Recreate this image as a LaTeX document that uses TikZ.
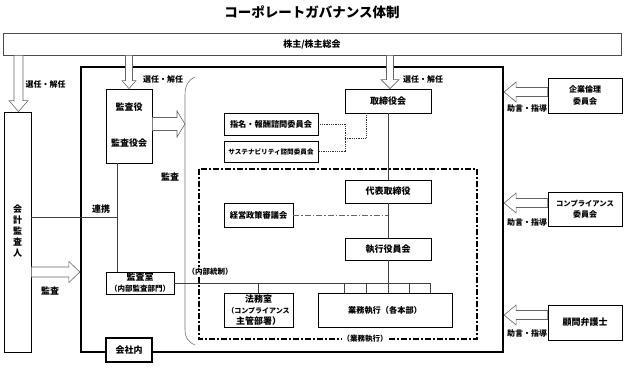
\documentclass[tikz,border=0pt]{standalone}
\usepackage{fontspec}
\setmainfont{Noto Sans CJK JP}
\usetikzlibrary{calc}
\newcommand\arrowH[5]{%
 \draw[barrow] let \p1=(#1), \p2=(#2), \n1={sign(\x2-\x1)} in
  (\x1,{\y1+#3pt}) -- ({\x2-\n1*#5pt},{\y1+#3pt}) -- ({\x2-\n1*#5pt},{\y1+#4pt}) -- (\x2,\y1)
  -- ({\x2-\n1*#5pt},{\y1-#4pt}) -- ({\x2-\n1*#5pt},{\y1-#3pt}) -- (\x1,{\y1-#3pt}) -- cycle;}
\newcommand\arrowV[5]{%
 \draw[barrow] let \p1=(#1), \p2=(#2), \n1={sign(\y2-\y1)} in
  ({\x1-#3pt},\y1) -- ({\x1-#3pt},{\y2-\n1*#5pt}) -- ({\x1-#4pt},{\y2-\n1*#5pt}) -- (\x1,\y2)
  -- ({\x1+#4pt},{\y2-\n1*#5pt}) -- ({\x1+#3pt},{\y2-\n1*#5pt}) -- ({\x1+#3pt},\y1) -- cycle;}
\tikzset{
 box/.style={draw=black, line width=0.8pt, fill=white, inner sep=0pt, align=center,
   font=\bfseries\fontsize{9}{11}\selectfont},
 lbl/.style={inner sep=0pt, font=\bfseries\fontsize{8}{9.6}\selectfont},
 barrow/.style={draw=black!60, line width=0.6pt, fill=white},
 conn/.style={draw=black!75, line width=0.7pt},
 dotc/.style={draw=black!80, line width=0.9pt, dash pattern=on 0.9pt off 0.9pt},
 ddbig/.style={draw=black, line width=1.7pt, dash pattern=on 6pt off 2pt on 2pt off 2pt},
 ddthin/.style={draw=black!60, line width=0.5pt, dash pattern=on 6pt off 2pt on 1.5pt off 2pt}
}
\begin{document}
\begin{tikzpicture}[x=1pt,y=-1pt]
\useasboundingbox (0,0) rectangle (624,367);
% title
\node[inner sep=0pt, font=\bfseries\fontsize{13.5}{15}\selectfont] (title) at (312,12) {コーポレートガバナンス体制};
% top box
\node[box, draw=black!70, minimum width=618pt, minimum height=22pt] (kab) at (312,44) {株主/株主総会};
% main frame
\node[draw=black, line width=2.2pt, minimum width=422pt, minimum height=285pt, inner sep=0pt] (main) at (292,209.5) {};
% dash-dot region
\draw[ddbig] (199,169) rectangle (477,339);
% bracket
\draw[draw=black!55, line width=0.6pt] (195,77) .. controls (188,80) and (185,86) .. (185,95) -- (185,330) .. controls (185,337) and (188,342) .. (195,345);
% left auditor
\node[box, minimum width=27pt, minimum height=240pt] (kaikei) at (17.5,232) {};
\node[inner sep=0pt, align=center, font=\bfseries\fontsize{9}{11}\selectfont] (kaikeit) at (17.5,231) {会\\計\\監\\査\\人};
% boxes
\node[box, minimum width=46pt, minimum height=74pt] (kansayaku) at (129,126) {};
\node[lbl, font=\bfseries\fontsize{9}{11}\selectfont] (ky1) at (129,107) {監査役};
\node[lbl, font=\bfseries\fontsize{9}{11}\selectfont] (ky2) at (129,143) {監査役会};
\node[box, minimum width=86pt, minimum height=24pt] (tori) at (388,101) {取締役会};
\node[box, minimum width=94pt, minimum height=22pt, font=\bfseries\fontsize{8.2}{10}\selectfont] (shimei) at (271,124) {指名・報酬諮問委員会};
\node[box, minimum width=94pt, minimum height=21pt, font=\bfseries\fontsize{6.6}{8}\selectfont] (sust) at (271,151.5) {サステナビリティ諮問委員会};
\node[box, minimum width=86pt, minimum height=23pt] (daihyo) at (388,191.5) {代表取締役};
\node[box, minimum width=69pt, minimum height=24pt, font=\bfseries\fontsize{8.2}{10}\selectfont] (keiei) at (258.5,215) {経営政策審議会};
\node[box, minimum width=86pt, minimum height=22pt] (shikko) at (388,249) {執行役員会};
\node[box, minimum width=68pt, minimum height=22pt] (kshitsu) at (140,283)
  {\fontsize{9}{11}\selectfont 監査室\\\fontsize{7.5}{10}\selectfont （内部監査部門）};
\node[box, minimum width=69pt, minimum height=34pt] (homu) at (258.5,310)
  {\fontsize{9}{10.5}\selectfont 法務室\\\fontsize{7}{10.5}\selectfont （コンプライアンス\\主管部署）};
\node[box, minimum width=134pt, minimum height=34pt, font=\bfseries\fontsize{8.2}{10}\selectfont] (gyomu) at (385,310) {業務執行（各本部）};
\node[box, line width=2.2pt, minimum width=46pt, minimum height=24pt] (shanai) at (129,350) {会社内};
\node[box, minimum width=74pt, minimum height=35pt, font=\bfseries\fontsize{8}{12.5}\selectfont] (kigyo) at (585,95.5) {企業倫理\\委員会};
\node[box, minimum width=74pt, minimum height=34pt] (compl) at (585,209)
  {\fontsize{7.3}{12}\selectfont コンプライアンス\\\fontsize{8}{12}\selectfont 委員会};
\node[box, minimum width=74pt, minimum height=35pt] (komon) at (585,322.5) {顧問弁護士};
% helper coordinates
\coordinate (rcol) at (117,0);
\coordinate (renkei) at (0,217);
\coordinate (a1) at (18.5,0);
\coordinate (a3) at (390,0);
\coordinate (dx) at (345,0);
\coordinate (dm) at (366,138);
% block arrows
\arrowV{kab.south -| a1}{kaikei.north -| a1}{4.5}{9.5}{11}
\arrowV{kab.south -| kansayaku.north}{kansayaku.north}{3.5}{7}{8}
\arrowV{kab.south -| a3}{tori.north -| a3}{3.5}{9}{9}
\coordinate (kyr) at (185,124);
\arrowH{kansayaku.east |- kyr}{kyr}{6.5}{13}{8}
\coordinate (kar) at (0,272);
\arrowH{kaikei.east |- kar}{main.west |- kar}{5}{10.5}{11}
\coordinate (k1) at (0,92);
\coordinate (k2) at (0,203);
\coordinate (k3) at (0,315);
\arrowH{kigyo.west |- k1}{main.east |- k1}{4.5}{10}{12}
\arrowH{compl.west |- k2}{main.east |- k2}{4.5}{10}{12}
\arrowH{komon.west |- k3}{main.east |- k3}{4.5}{10}{12}
% connectors
\draw[conn] (kansayaku.south -| rcol) -- (kshitsu.north -| rcol);
\draw[conn] (kaikei.east |- renkei) -- (rcol |- renkei);
\coordinate (busr) at (430,283);
\draw[conn] (kshitsu.east) -- (busr);
\draw[conn] (tori.south) -- (daihyo.north);
\draw[conn] (daihyo.south) -- (shikko.north);
\draw[conn] (shikko.south) -- (shikko.south |- gyomu.north);
\foreach \t in {344,366,409,430} \draw[conn] (\t,283) -- (\t,293);
\draw[conn] (homu.north |- busr) -- (homu.north);
\draw[dotc] (shimei.east) -- (shimei.east -| dx) -- (sust.east -| dx) -- (sust.east);
\draw[dotc] (dx |- dm) -- (dm) -- (tori.south -| dm);
\draw[ddthin] (keiei.east) -- (keiei.east -| daihyo.south);
% labels
\node[lbl] (l1) at (45.5,84) {選任・解任};
\node[lbl] (l2) at (163,79) {選任・解任};
\node[lbl] (l3) at (423,79) {選任・解任};
\node[lbl] (j1) at (527,108) {助言・指導};
\node[lbl] (j2) at (527,222) {助言・指導};
\node[lbl] (j3) at (527,333) {助言・指導};
\node[lbl, font=\bfseries\fontsize{9}{11}\selectfont] (kansa1) at (170,177) {監査};
\node[lbl, font=\bfseries\fontsize{9}{11}\selectfont] (renkeit) at (101,209) {連携};
\node[lbl, font=\bfseries\fontsize{9}{11}\selectfont] (kansa2) at (50,291) {監査};
\node[lbl, fill=white, inner sep=1pt, font=\bfseries\fontsize{7.5}{9}\selectfont] (naibu) at (210,272) {（内部統制）};
\node[lbl, fill=white, inner sep=0.5pt, font=\bfseries\fontsize{7.5}{9}\selectfont] (gyomut) at (365,339) {（業務執行）};
\end{tikzpicture}
\end{document}
